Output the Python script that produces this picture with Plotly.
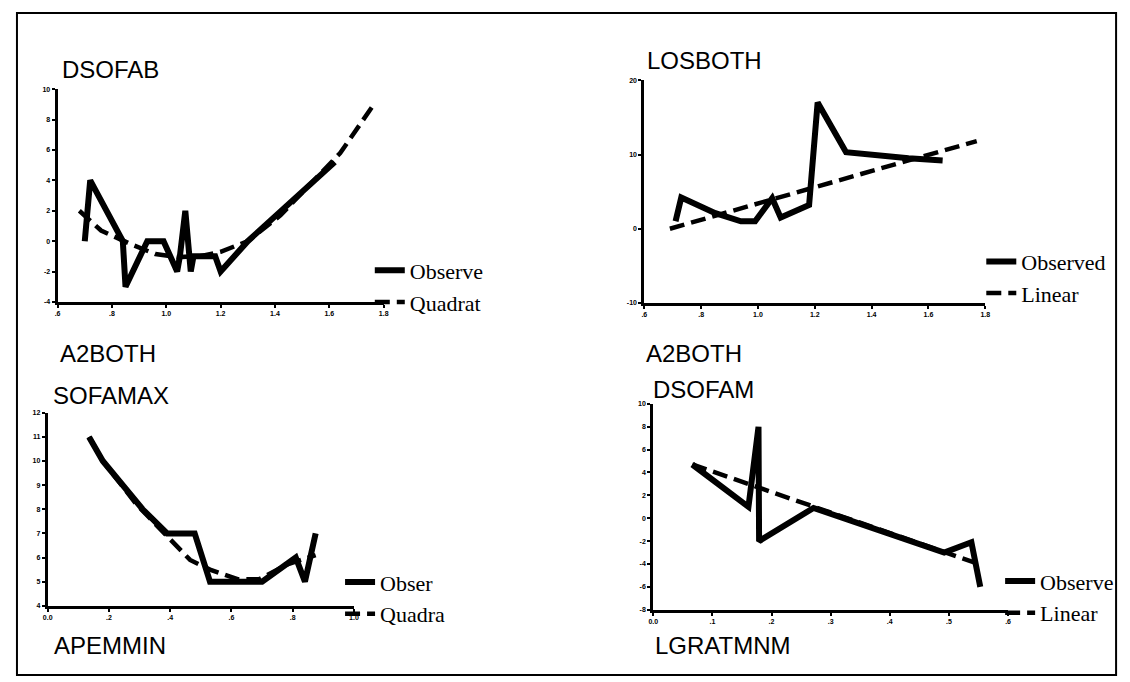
import plotly.graph_objects as go

# Page is 1130x682; the HTML body adds an 8px margin, so the figure is drawn
# 8px smaller and all reference pixel positions are shifted by that margin.
PAGE_OFF = 8
FW, FH = 1122, 674

# ---------------- data ----------------
# Panel 1: DSOFAB vs A2BOTH (observed + quadratic fit)
p1_obs_x = [0.70, 0.72, 0.84, 0.85, 0.93, 0.99, 1.04, 1.05, 1.07, 1.09, 1.10, 1.18, 1.20, 1.30, 1.62]
p1_obs_y = [0.0, 4.0, 0.0, -3.0, 0.0, 0.0, -2.0, -1.0, 2.0, -2.0, -1.0, -1.0, -2.0, 0.0, 5.2]
p1_fit_x = [0.68, 0.76, 0.87, 0.96, 1.04, 1.12, 1.20, 1.30, 1.42, 1.54, 1.64, 1.76]
p1_fit_y = [2.0, 0.7, -0.2, -0.85, -1.05, -1.0, -0.7, 0.0, 1.7, 3.9, 5.8, 8.9]
p1_xticks = [0.6, 0.8, 1.0, 1.2, 1.4, 1.6, 1.8]
p1_xtext = [".6", ".8", "1.0", "1.2", "1.4", "1.6", "1.8"]
p1_yticks = [-4, -2, 0, 2, 4, 6, 8, 10]

# Panel 2: LOSBOTH vs A2BOTH (observed + linear fit)
p2_obs_x = [0.71, 0.73, 0.85, 0.94, 0.99, 1.05, 1.08, 1.18, 1.21, 1.31, 1.53, 1.65]
p2_obs_y = [1.0, 4.2, 2.1, 1.0, 1.0, 4.1, 1.5, 3.2, 17.0, 10.3, 9.5, 9.2]
p2_fit_x = [0.69, 0.85, 1.05, 1.21, 1.53, 1.77]
p2_fit_y = [0.0, 1.8, 4.0, 5.7, 9.2, 11.8]
p2_xticks = [0.6, 0.8, 1.0, 1.2, 1.4, 1.6, 1.8]
p2_xtext = [".6", ".8", "1.0", "1.2", "1.4", "1.6", "1.8"]
p2_yticks = [-10, 0, 10, 20]

# Panel 3: SOFAMAX vs APEMMIN (observed + quadratic fit)
p3_obs_x = [0.135, 0.18, 0.31, 0.39, 0.48, 0.53, 0.62, 0.70, 0.81, 0.84, 0.875]
p3_obs_y = [11.0, 10.0, 8.0, 7.0, 7.0, 5.0, 5.0, 5.0, 6.0, 5.0, 7.0]
p3_fit_x = [0.135, 0.18, 0.29, 0.38, 0.465, 0.53, 0.62, 0.69, 0.78, 0.875]
p3_fit_y = [11.0, 10.0, 8.2, 7.0, 5.9, 5.5, 5.1, 5.1, 5.7, 6.1]
p3_xticks = [0.0, 0.2, 0.4, 0.6, 0.8, 1.0]
p3_xtext = ["0.0", ".2", ".4", ".6", ".8", "1.0"]
p3_yticks = [4, 5, 6, 7, 8, 9, 10, 11, 12]

# Panel 4: DSOFAM vs LGRATMNM (observed + linear fit)
p4_obs_x = [0.066, 0.161, 0.178, 0.179, 0.271, 0.492, 0.538, 0.553]
p4_obs_y = [4.7, 1.0, 8.0, -2.0, 0.9, -3.0, -2.1, -6.0]
p4_fit_x = [0.066, 0.178, 0.271, 0.492, 0.545]
p4_fit_y = [4.7, 2.7, 1.0, -2.9, -3.9]
p4_xticks = [0.0, 0.1, 0.2, 0.3, 0.4, 0.5, 0.6]
p4_xtext = ["0.0", ".1", ".2", ".3", ".4", ".5", ".6"]
p4_yticks = [-8, -6, -4, -2, 0, 2, 4, 6, 8, 10]

# ---------------- helpers ----------------
def fx(p):
    return (p - PAGE_OFF) / FW

def fy(p):
    return 1 - (p - PAGE_OFF) / FH

SANS = "Liberation Sans, Arial, sans-serif"
SERIF = "Liberation Serif, Times New Roman, serif"
DASH = "15px,7px"

def xaxis(dom, rng, vals, text, anchor):
    return dict(domain=[fx(dom[0]), fx(dom[1])], range=rng, tickmode="array",
                tickvals=vals, ticktext=text, anchor=anchor,
                showline=True, linecolor="black", linewidth=3,
                ticks="outside", ticklen=3, tickwidth=2, tickcolor="black",
                showgrid=False, zeroline=False, fixedrange=True,
                tickfont=dict(family=SANS, size=7, color="black", weight="bold"))

def yaxis(dom, rng, vals, anchor):
    # dom = (top px, bottom px)
    return dict(domain=[fy(dom[1]), fy(dom[0])], range=rng, tickmode="array",
                tickvals=vals, ticktext=[str(v) for v in vals], anchor=anchor,
                showline=True, linecolor="black", linewidth=3,
                ticks="outside", ticklen=3, tickwidth=2, tickcolor="black",
                showgrid=False, zeroline=False, fixedrange=True,
                tickfont=dict(family=SANS, size=7, color="black", weight="bold"))

fig = go.Figure()

panels = [
    ("x", "y", "legend", p1_obs_x, p1_obs_y, p1_fit_x, p1_fit_y, "Observe", "Quadrat"),
    ("x2", "y2", "legend2", p2_obs_x, p2_obs_y, p2_fit_x, p2_fit_y, "Observed", "Linear"),
    ("x3", "y3", "legend3", p3_obs_x, p3_obs_y, p3_fit_x, p3_fit_y, "Obser", "Quadra"),
    ("x4", "y4", "legend4", p4_obs_x, p4_obs_y, p4_fit_x, p4_fit_y, "Observe", "Linear"),
]
for xa, ya, lg, ox, oy, qx, qy, n1, n2 in panels:
    fig.add_trace(go.Scatter(x=ox, y=oy, mode="lines", name=n1, xaxis=xa, yaxis=ya,
                             legend=lg, line=dict(color="black", width=6)))
    fig.add_trace(go.Scatter(x=qx, y=qy, mode="lines", name=n2, xaxis=xa, yaxis=ya,
                             legend=lg, line=dict(color="black", width=4.5, dash=DASH)))

def legend(x_text, y_first):
    return dict(x=fx(x_text - 42), y=fy(y_first - 19), xanchor="left", yanchor="top",
                bgcolor="rgba(0,0,0,0)", borderwidth=0, itemwidth=30,
                tracegroupgap=0, traceorder="normal",
                font=dict(family=SERIF, size=22, color="black"))

titles = [
    ("DSOFAB", 55, 66), ("A2BOTH", 53, 353),
    ("SOFAMAX", 46, 396), ("APEMMIN", 47, 648),
    ("LOSBOTH", 646, 57), ("A2BOTH", 645, 353),
    ("DSOFAM", 652, 389), ("LGRATMNM", 654, 648),
]
annotations = [dict(text=t, x=fx(x), y=fy(y), xref="paper", yref="paper",
                    xanchor="left", yanchor="middle", showarrow=False,
                    font=dict(family=SANS, size=24, color="black"))
               for t, x, y in titles]

fig.update_layout(
    width=FW, height=FH, margin=dict(l=0, r=0, t=0, b=0),
    paper_bgcolor="white", plot_bgcolor="white",
    xaxis=xaxis((53, 382), [0.6, 1.8], p1_xticks, p1_xtext, "y"),
    yaxis=yaxis((86, 301), [-4, 10], p1_yticks, "x"),
    xaxis2=xaxis((645, 989), [0.6, 1.8], p2_xticks, p2_xtext, "y2"),
    yaxis2=yaxis((77, 302), [-10, 20], p2_yticks, "x2"),
    xaxis3=xaxis((43, 352), [0.0, 1.0], p3_xticks, p3_xtext, "y3"),
    yaxis3=yaxis((413, 608), [4, 12], p3_yticks, "x3"),
    xaxis4=xaxis((654, 1012), [0.0, 0.6], p4_xticks, p4_xtext, "y4"),
    yaxis4=yaxis((404, 612), [-8, 10], p4_yticks, "x4"),
    legend=legend(410, 267),
    legend2=legend(1027, 258),
    legend3=legend(380, 582),
    legend4=legend(1046, 581),
    annotations=annotations,
    shapes=[dict(type="rect", xref="paper", yref="paper",
                 x0=fx(12), y0=fy(678), x1=fx(1121), y1=fy(9),
                 line=dict(color="black", width=2), fillcolor="rgba(0,0,0,0)")],
    showlegend=True,
)

fig.write_html("out.html")
